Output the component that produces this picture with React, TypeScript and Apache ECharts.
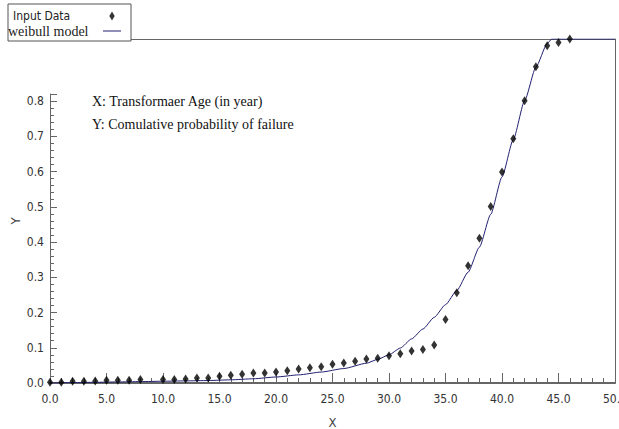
import React, { useEffect, useRef } from "react";
import * as echarts from "echarts";

// Observed data (transformer age in years vs cumulative probability of failure)
const dataX: number[] = [0, 1, 2, 3, 4, 5, 6, 7, 8, 10, 11, 12, 13, 14, 15, 16, 17, 18, 19, 20, 21, 22, 23, 24, 25, 26, 27, 28, 29, 30, 31, 32, 33, 34, 35, 36, 37, 38, 39, 40, 41, 42, 43, 44, 45, 46];
const dataY: number[] = [0.002, 0.002, 0.005, 0.005, 0.006, 0.008, 0.008, 0.008, 0.01, 0.01, 0.01, 0.011, 0.014, 0.014, 0.019, 0.022, 0.025, 0.028, 0.028, 0.031, 0.035, 0.04, 0.043, 0.046, 0.053, 0.057, 0.062, 0.068, 0.07, 0.077, 0.083, 0.091, 0.095, 0.108, 0.18, 0.256, 0.332, 0.41, 0.5, 0.598, 0.692, 0.8, 0.896, 0.956, 0.965, 0.975];

// Weibull model curve
const modelX: number[] = [0, 2, 4, 6, 8, 10, 12, 14, 16, 18, 20, 22, 24, 26, 28, 29, 30, 31, 32, 33, 34, 35, 36, 37, 38, 39, 40, 41, 42, 43, 44, 44.4, 50];
const modelY: number[] = [0, 0.001, 0.002, 0.003, 0.004, 0.005, 0.006, 0.007, 0.009, 0.012, 0.017, 0.023, 0.031, 0.041, 0.056, 0.067, 0.08, 0.099, 0.125, 0.153, 0.186, 0.222, 0.262, 0.314, 0.385, 0.478, 0.584, 0.69, 0.8, 0.895, 0.962, 0.975, 0.975];

const annotationLines: string[] = ["X: Transformaer Age (in year)", "Y: Comulative probability of failure"];

const NARROW = '"Liberation Sans Narrow", "DejaVu Sans Condensed", "Arial Narrow", "Liberation Sans", sans-serif';
const SERIF = '"Liberation Serif", "Times New Roman", serif';

export default function App() {
  const ref = useRef<HTMLDivElement>(null);
  useEffect(() => {
    document.body.style.margin = "0";
    const chart = echarts.init(ref.current!, null, { renderer: "svg" });
    const axisGray = "#666";
    const labelStyle = { fontFamily: NARROW, fontSize: 12, color: "#333" };
    chart.setOption({
      animation: false,
      backgroundColor: "#fff",
      grid: [
        { left: 50, right: 4, top: 39, bottom: 46, outerBoundsMode: "none", containLabel: false },
        { left: 50, right: 4, top: 94, bottom: 46, outerBoundsMode: "none", containLabel: false },
      ],
      legend: {
        left: 8,
        top: 4,
        orient: "vertical",
        align: "right",
        padding: [6, 10, 3, 0],
        itemGap: 2,
        itemWidth: 18,
        itemHeight: 9,
        backgroundColor: "#fff",
        borderColor: "#555",
        borderWidth: 1,
        borderRadius: 0,
        data: [
          { name: "Input Data", icon: "path://M3,0L6,5L3,10L0,5Z", itemStyle: { color: "#000" } },
          { name: "weibull model", icon: "path://M0,0H18V1H0Z", itemStyle: { color: "#1f1f70" } },
        ],
        formatter: (name: string) => (name === "Input Data" ? `{a|${name}}` : `{b|${name}}`),
        textStyle: {
          rich: {
            a: { fontFamily: NARROW, fontSize: 12, color: "#222", lineHeight: 16, width: 85, align: "left", padding: [0, 0, 0, 5] },
            b: { fontFamily: SERIF, fontSize: 14, color: "#222", lineHeight: 16, width: 90, align: "left" },
          },
        },
      },
      graphic: annotationLines.map((t, i) => ({
        type: "text",
        left: 92,
        top: 94 + i * 23,
        style: { text: t, fontFamily: SERIF, fontSize: 14, fill: "#111" },
      })),
      xAxis: [
        {
          gridIndex: 0,
          type: "value",
          position: "bottom",
          min: 0,
          max: 50,
          interval: 5,
          name: "X",
          nameLocation: "middle",
          nameGap: 33,
          nameTextStyle: { fontFamily: NARROW, fontSize: 13, color: "#444" },
          axisLine: { show: true, onZero: false, lineStyle: { color: axisGray, width: 2 } },
          axisTick: { show: true, inside: true, length: 10, lineStyle: { color: axisGray } },
          minorTick: { show: true, splitNumber: 5, length: 5, lineStyle: { color: axisGray } },
          splitLine: { show: false },
          axisLabel: { ...labelStyle, margin: 10, formatter: (v: number) => v.toFixed(1) },
        },
        {
          gridIndex: 0,
          type: "value",
          position: "top",
          min: 0,
          max: 50,
          axisLine: { show: true, onZero: false, lineStyle: { color: axisGray, width: 1 } },
          axisTick: { show: false },
          axisLabel: { show: false },
          splitLine: { show: false },
        },
        { gridIndex: 1, type: "value", min: 0, max: 50, show: false },
      ],
      yAxis: [
        {
          gridIndex: 0,
          type: "value",
          min: 0,
          max: 0.975,
          name: "Y",
          nameLocation: "middle",
          nameGap: 28,
          nameTextStyle: { fontFamily: NARROW, fontSize: 13, color: "#444", padding: [0, 20, 0, 0] },
          axisLine: { show: false, onZero: false },
          axisTick: { show: false },
          axisLabel: { show: false },
          splitLine: { show: false },
        },
        {
          gridIndex: 0,
          type: "value",
          position: "right",
          min: 0,
          max: 0.975,
          axisLine: { show: true, onZero: false, lineStyle: { color: axisGray, width: 1 } },
          axisTick: { show: false },
          axisLabel: { show: false },
          splitLine: { show: false },
        },
        {
          gridIndex: 1,
          type: "value",
          position: "left",
          min: 0,
          max: 0.82,
          interval: 0.1,
          axisLine: { show: true, onZero: false, lineStyle: { color: axisGray, width: 1 } },
          axisTick: { show: true, inside: true, length: 7, lineStyle: { color: axisGray } },
          minorTick: { show: true, splitNumber: 5, length: 4, lineStyle: { color: axisGray } },
          splitLine: { show: false },
          axisLabel: {
            ...labelStyle,
            margin: 6,
            formatter: (v: number) => (v > 0.81 ? "" : v.toFixed(1)),
          },
        },
      ],
      series: [
        {
          name: "weibull model",
          type: "line",
          xAxisIndex: 0,
          yAxisIndex: 0,
          data: modelX.map((x, i) => [x, modelY[i]]),
          symbol: "none",
          smooth: 0.2,
          smoothMonotone: "x",
          lineStyle: { color: "#1f1f70", width: 1 },
          itemStyle: { color: "#1f1f70" },
          z: 3,
        },
        {
          name: "Input Data",
          type: "scatter",
          xAxisIndex: 0,
          yAxisIndex: 0,
          data: dataX.map((x, i) => [x, dataY[i]]),
          symbol: "diamond",
          symbolSize: [6, 9],
          itemStyle: { color: "#000" },
          z: 4,
        },
      ],
    });
    return () => chart.dispose();
  }, []);
  return <div ref={ref} style={{ position: "fixed", left: 0, top: 0, width: 619, height: 429 }} />;
}
